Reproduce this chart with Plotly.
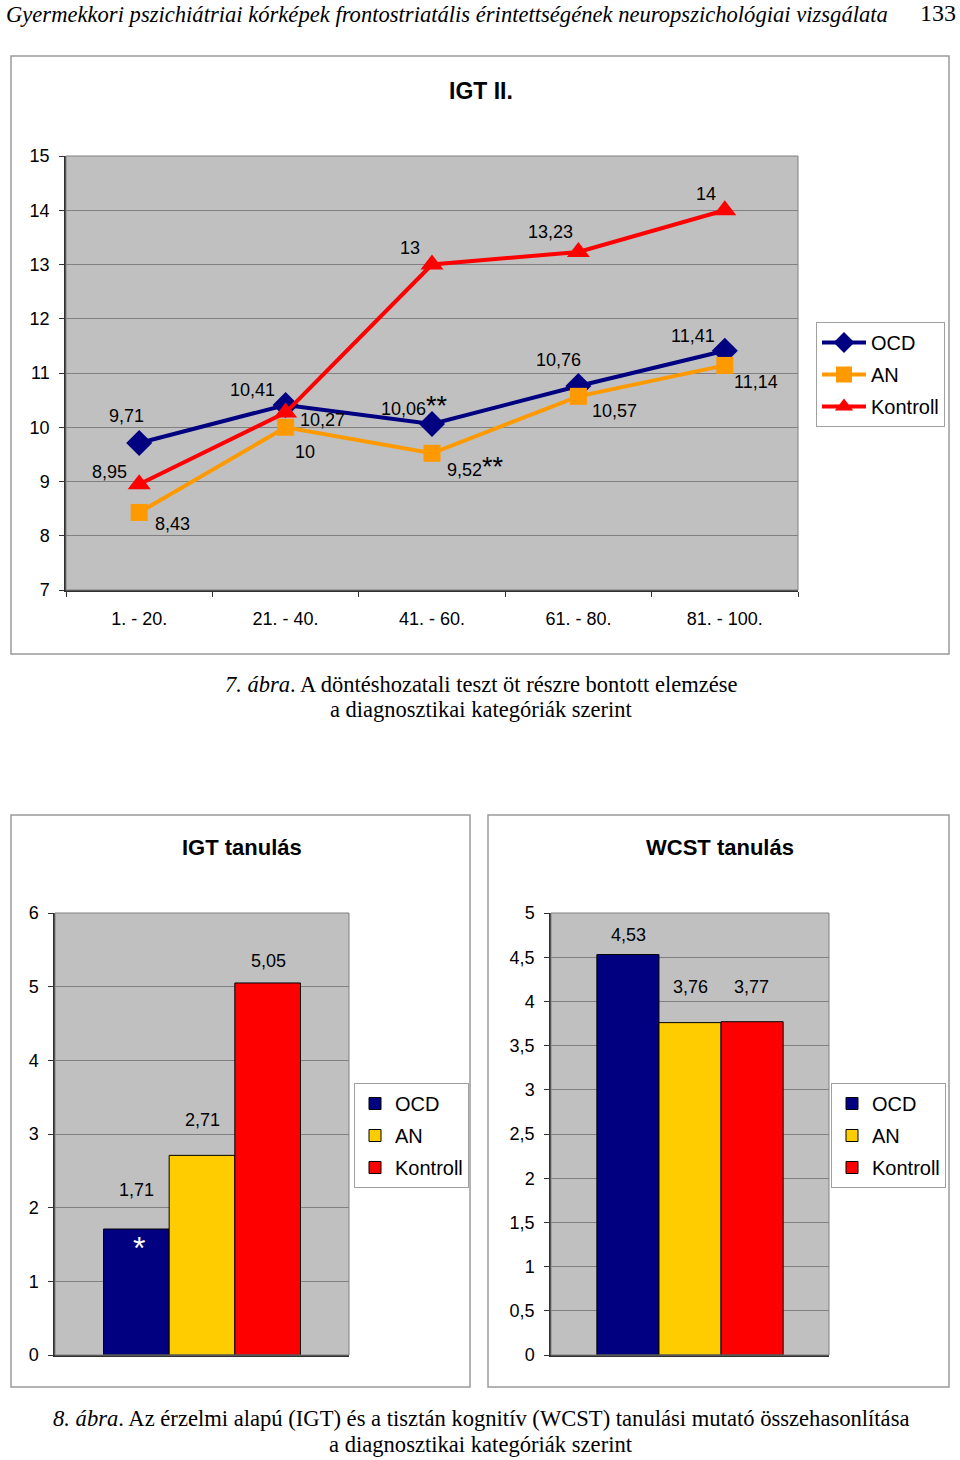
import plotly.graph_objects as go

# ---------------- data ----------------
segments = ["1. - 20.", "21. - 40.", "41. - 60.", "61. - 80.", "81. - 100."]
ocd_igt2 = [9.71, 10.41, 10.06, 10.76, 11.41]
an_igt2 = [8.43, 10.0, 9.52, 10.57, 11.14]
kontroll_igt2 = [8.95, 10.27, 13.0, 13.23, 14.0]
igt2_marks = {"OCD": ["", "", "**", "", ""], "AN": ["", "", "**", "", ""], "Kontroll": ["", "", "", "", ""]}

groups = ["OCD", "AN", "Kontroll"]
igt_learning = [1.71, 2.71, 5.05]
wcst_learning = [4.53, 3.76, 3.77]

# ---------------- style ----------------
W, H = 960, 1460
FONT = "Arial, Liberation Sans, sans-serif"
SERIF = "Liberation Serif, Times New Roman, serif"
line_colors = {"OCD": "#000080", "AN": "#FF9900", "Kontroll": "#FF0000"}
bar_colors = {"OCD": "#000080", "AN": "#FFCC00", "Kontroll": "#FF0000"}
symbols = {"OCD": "diamond", "AN": "square", "Kontroll": "triangle-up"}
msize = {"OCD": 20, "AN": 17, "Kontroll": 20}

# label offsets (pixels) for chart 1
shifts = {
    "OCD": [(-13, 27), (-33, 15), (-18, 18), (-20, 26), (-32, 15)],
    "AN": [(33, -12), (19, -25), (43, -14), (36, -15), (31, -17)],
    "Kontroll": [(-30, 12), (37, -7), (-22, 17), (-28, 20), (-19, 16)],
}


def px_x(p):
    return p / W


def px_y(p):
    return 1 - p / H


def fmt(v):
    return f"{v:g}".replace(".", ",")


fig = go.Figure()

series = {"OCD": ocd_igt2, "AN": an_igt2, "Kontroll": kontroll_igt2}
for name, vals in series.items():
    fig.add_trace(go.Scatter(
        x=segments, y=vals, name=name, mode="lines+markers",
        line=dict(color=line_colors[name], width=4),
        marker=dict(symbol=symbols[name], size=msize[name], color=line_colors[name]),
        xaxis="x", yaxis="y", legend="legend", legendgroup="l" + name,
    ))

annotations = []
for name, vals in series.items():
    for i, v in enumerate(vals):
        dx, dy = shifts[name][i]
        txt = fmt(v)
        if igt2_marks[name][i]:
            txt += "<span style='font-size:27px'>" + igt2_marks[name][i] + "</span>"
        annotations.append(dict(
            x=segments[i], y=v, xref="x", yref="y", text=txt, showarrow=False,
            xanchor="center", yanchor="middle",
            xshift=dx, yshift=dy, font=dict(family=FONT, size=18, color="black"),
        ))

# bar charts
bar_shift = {"OCD": -66, "AN": 0, "Kontroll": 66}
igt_yshift = [39, 35, 22]
wcst_yshift = [20, 36, 35]
for i, g in enumerate(groups):
    fig.add_trace(go.Bar(
        x=["IGT"], y=[igt_learning[i]], name=g, xaxis="x2", yaxis="y2",
        marker=dict(color=bar_colors[g], line=dict(color="black", width=1)),
        legend="legend2", legendgroup="b2" + g,
    ))
    annotations.append(dict(
        x="IGT", y=igt_learning[i], xref="x2", yref="y2", text=fmt(igt_learning[i]),
        showarrow=False, xanchor="center", yanchor="middle",
        xshift=bar_shift[g], yshift=igt_yshift[i],
        font=dict(family=FONT, size=18, color="black"),
    ))
for i, g in enumerate(groups):
    fig.add_trace(go.Bar(
        x=["WCST"], y=[wcst_learning[i]], name=g, xaxis="x3", yaxis="y3",
        marker=dict(color=bar_colors[g], line=dict(color="black", width=1)),
        legend="legend3", legendgroup="b3" + g,
    ))
    annotations.append(dict(
        x="WCST", y=wcst_learning[i], xref="x3", yref="y3", text=fmt(wcst_learning[i]),
        showarrow=False, xanchor="center", yanchor="middle",
        xshift=bar_shift[g] * 0.93, yshift=wcst_yshift[i],
        font=dict(family=FONT, size=18, color="black"),
    ))

# asterisk inside OCD bar (IGT)
annotations.append(dict(
    x="IGT", y=igt_learning[0], xref="x2", yref="y2", text="*", showarrow=False,
    xanchor="center", yanchor="middle",
    xshift=-63, yshift=-19, font=dict(family=FONT, size=32, color="white"),
))


def page_text(x, y, text, size, family=FONT, xanchor="center"):
    return dict(x=px_x(x), y=px_y(y), xref="paper", yref="paper", text=text,
                showarrow=False, xanchor=xanchor, yanchor="middle",
                font=dict(family=family, size=size, color="black"))


annotations += [
    page_text(481, 91, "<b>IGT II.</b>", 23),
    page_text(242, 848, "<b>IGT tanulás</b>", 22),
    page_text(720, 848, "<b>WCST tanulás</b>", 22),
    page_text(4, 14, "<i>Gyermekkori pszichiátriai kórképek frontostriatális érintettségének neuropszichológiai vizsgálata</i>",
              22.6, SERIF, "left"),
    page_text(958, 13, "133", 24, SERIF, "right"),
    page_text(481, 684, "<i>7. ábra</i>. A döntéshozatali teszt öt részre bontott elemzése", 22.5, SERIF),
    page_text(481, 710, "a diagnosztikai kategóriák szerint", 22.5, SERIF),
    page_text(481, 1418, "<i>8. ábra</i>. Az érzelmi alapú (IGT) és a tisztán kognitív (WCST) tanulási mutató összehasonlítása",
              22.6, SERIF),
    page_text(481, 1444, "a diagnosztikai kategóriák szerint", 22.6, SERIF),
]

shapes = []
# outer chart frames
for (x0, y0, x1, y1) in [(11, 56, 949, 654), (11, 815, 470, 1387), (488, 815, 949, 1387)]:
    shapes.append(dict(type="rect", xref="paper", yref="paper",
                       x0=px_x(x0), x1=px_x(x1), y0=px_y(y1), y1=px_y(y0),
                       line=dict(color="#9a9a9a", width=1.5), fillcolor="rgba(0,0,0,0)", layer="below"))
# plot area borders
for ax in ["", "2", "3"]:
    shapes.append(dict(type="rect", xref=f"x{ax} domain", yref=f"y{ax} domain",
                       x0=0, x1=1, y0=0, y1=1, line=dict(color="#808080", width=1),
                       fillcolor="rgba(0,0,0,0)", layer="above"))

axis_common = dict(tickfont=dict(family=FONT, size=18, color="black"), zeroline=False,
                   showline=True, linecolor="#303030", linewidth=1.5, automargin=False)
yaxis_common = dict(axis_common, ticks="outside", ticklen=5, tickcolor="#303030",
                    showgrid=True, gridcolor="#808080", gridwidth=1, ticklabelstandoff=6)

legend_common = dict(bgcolor="white", bordercolor="#a0a0a0", borderwidth=1,
                     font=dict(family=FONT, size=20, color="black"), xanchor="left", yanchor="top",
                     tracegroupgap=3, traceorder="grouped")

fig.update_layout(
    width=W, height=H, margin=dict(l=0, r=0, t=0, b=0, pad=0, autoexpand=False),
    paper_bgcolor="white", plot_bgcolor="#C0C0C0",
    separators=", ", barmode="group", bargap=0.33, bargroupgap=0,
    font=dict(family=FONT, color="black"),
    xaxis=dict(axis_common, domain=[px_x(66), px_x(798)], anchor="y", type="category",
               tickson="boundaries", ticks="outside", ticklen=5, tickcolor="#303030",
               showgrid=False, range=[-0.5, 4.5], ticklabelstandoff=12),
    yaxis=dict(yaxis_common, domain=[px_y(590), px_y(156)], anchor="x", range=[7, 15], dtick=1),
    xaxis2=dict(axis_common, domain=[px_x(55), px_x(349)], anchor="y2", type="category",
                showticklabels=False, ticks="", showgrid=False, range=[-0.5, 0.5]),
    yaxis2=dict(yaxis_common, domain=[px_y(1355), px_y(913)], anchor="x2", range=[0, 6], dtick=1),
    xaxis3=dict(axis_common, domain=[px_x(551), px_x(829)], anchor="y3", type="category",
                showticklabels=False, ticks="", showgrid=False, range=[-0.5, 0.5]),
    yaxis3=dict(yaxis_common, domain=[px_y(1355), px_y(913)], anchor="x3", range=[0, 5], dtick=0.5),
    legend=dict(legend_common, x=px_x(816), y=px_y(322), itemwidth=44),
    legend2=dict(legend_common, x=px_x(354), y=px_y(1083)),
    legend3=dict(legend_common, x=px_x(831), y=px_y(1083)),
    annotations=annotations, shapes=shapes,
)

fig.write_html("out.html", config={"displayModeBar": False},
               post_script="document.body.style.margin='0px';")
